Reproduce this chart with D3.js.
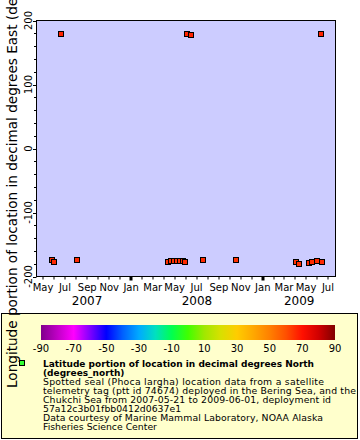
<!DOCTYPE html>
<html><head><meta charset="utf-8">
<script src="https://cdn.jsdelivr.net/npm/d3@7"></script>
<style>body{margin:0;background:#fff} svg{display:block;font-family:"DejaVu Sans",sans-serif}</style>
</head><body><svg id="c" width="360" height="440"></svg>
<script>
// ---- data ----
const dates = ["2007-05-26","2007-06-01","2007-06-21","2007-08-03",
  "2008-04-12","2008-04-21","2008-04-29","2008-05-07","2008-05-16","2008-05-24","2008-05-31",
  "2008-06-04","2008-06-15","2008-07-18","2008-10-19",
  "2009-04-02","2009-04-12","2009-05-08","2009-05-17","2009-06-01","2009-06-11","2009-06-14"];
const longitudes = [-174.5,-176.8,179.6,-174.5,
  -178,-176.5,-176.5,-176.5,-176.5,-176.5,-178,
  179.6,178,-174.5,-174.5,
  -178,-180,-179.2,-178,-176,179.6,-178];
const latitudes = [66,66,67,66,65,65,65,65,65,65,66,67,67,66,65,65,65,66,66,66,67,66];
const yTicks = [-200,-100,0,100,200];
const colorTicks = [-90,-70,-50,-30,-10,10,30,50,70,90];
const paletteStops = [-90,-70,-60,-50,-40,-30,-20,-10,0,10,20,30,40,50,60,70,80,90];
const paletteColors = ["#80008c","#ff00ff","#8000ff","#0000ff","#0060ff","#00aaff","#00e0c0","#00ff50","#40ff00","#a0e800","#d8e000","#ffcc00","#ffa800","#ff8000","#ff5000","#ff1000","#d00000","#800000"];
const monthNames = ["Jan","Feb","Mar","Apr","May","Jun","Jul","Aug","Sep","Oct","Nov","Dec"];
const years = [2007,2008,2009];
const yTitle = "Longitude portion of location in decimal degrees East (degrees_east)";
const legendTitle = ["Latitude portion of location in decimal degrees North","(degrees_north)"];
const legendLines = ["Spotted seal (Phoca largha) location data from a satellite",
  "telemetry tag (ptt id 74674) deployed in the Bering Sea, and the",
  "Chukchi Sea from 2007-05-21 to 2009-06-01, deployment id",
  "57a12c3b01fbb0412d0637e1",
  "Data courtesy of Marine Mammal Laboratory, NOAA Alaska",
  "Fisheries Science Center"];
const legendLineWidths = [281, 313, 288, null, 280, null];

const svg = d3.select("#c");
const L=36.5, R=335.5, T=20.5, B=276.5;
const parse = d3.utcParse("%Y-%m-%d");
const x = d3.scaleUtc().domain([parse("2007-04-13"), parse("2009-07-22")]).range([L,R]);
const y = d3.scaleLinear().domain([-200,200]).range([B,T]);
const color = d3.scaleLinear().domain(paletteStops).range(paletteColors);

// plot background
svg.append("rect").attr("x",L).attr("y",T).attr("width",R-L).attr("height",B-T)
  .attr("fill","#ccccff").attr("stroke","none");

// y ticks
const yMinor = d3.range(-200,201,20);
svg.append("g").selectAll("line").data(yMinor).join("line")
  .attr("x1",L).attr("x2",d=>d%100===0?L-3.5:L-2.5)
  .attr("y1",d=>Math.round(y(d))+0.5).attr("y2",d=>Math.round(y(d))+0.5)
  .attr("stroke","#000");
svg.append("g").selectAll("text").data(yTicks).join("text")
  .attr("transform",d=>`translate(32,${y(d)}) rotate(-90)`)
  .attr("text-anchor","middle").attr("font-size",10).text(d=>d);

// x ticks
const months = d3.utcMonth.range(x.domain()[0], x.domain()[1]);
svg.append("g").selectAll("rect").data(months).join("rect")
  .attr("x",d=>d.getUTCMonth()===0?Math.round(x(d))-1.5:Math.round(x(d))-0.5)
  .attr("width",d=>d.getUTCMonth()===0?3:1)
  .attr("y",B).attr("height",d=>d.getUTCMonth()===0?4:3)
  .attr("fill","#000");
svg.append("g").selectAll("text").data(months.filter(d=>d.getUTCMonth()%2===0))
  .join("text").attr("x",d=>x(d)).attr("y",291).attr("text-anchor","middle")
  .attr("font-size",10).text(d=>monthNames[d.getUTCMonth()]);
svg.append("g").selectAll("text").data(years).join("text")
  .attr("x",d=>{
    const inYear = months.filter(m=>m.getUTCFullYear()===d);
    const a = Math.max(x(Date.UTC(d,0,1)), x(inYear[0]));
    const b = Math.min(x(Date.UTC(d+1,0,1)), R);
    return (a+b)/2;})
  .attr("y",305).attr("text-anchor","middle").attr("font-size",12).text(d=>d);

// border
svg.append("rect").attr("x",L).attr("y",T).attr("width",R-L).attr("height",B-T)
  .attr("fill","none").attr("stroke","#000");

// points
const pts = dates.map((d,i)=>({t:parse(d),lon:longitudes[i],lat:latitudes[i]}));
svg.append("g").selectAll("rect").data(pts).join("rect")
  .attr("x",d=>Math.round(x(d.t))-2.5).attr("y",d=>Math.round(y(d.lon))-2.5)
  .attr("width",5).attr("height",5)
  .attr("fill",d=>color(d.lat)).attr("stroke","#000");

// legend box
svg.append("rect").attr("x",1.5).attr("y",313.5).attr("width",356).attr("height",125)
  .attr("fill","#ffffcc").attr("stroke","#000");

// colorbar
const cbL=41, cbR=335, cbT=325, cbB=340;
const grad = svg.append("defs").append("linearGradient").attr("id","g");
paletteStops.forEach((s,i)=>grad.append("stop")
  .attr("offset",((s+90)/180*100)+"%").attr("stop-color",paletteColors[i]));
const cx = d3.scaleLinear().domain([-90,90]).range([cbL,cbR]);
svg.append("rect").attr("x",cbL).attr("y",cbT).attr("width",cbR-cbL).attr("height",cbB-cbT)
  .attr("fill","url(#g)");
svg.append("g").selectAll("text").data(colorTicks).join("text")
  .attr("x",d=>cx(d)).attr("y",351.5).attr("text-anchor","middle").attr("font-size",10).text(d=>d);

// legend marker + text
svg.append("rect").attr("x",19.5).attr("y",360.5).attr("width",5).attr("height",5)
  .attr("fill","#33ff33").attr("stroke","#000");
legendTitle.forEach((s,i)=>svg.append("text").attr("x",43).attr("y",366.5+i*9)
  .attr("font-size",9).attr("font-weight","bold").text(s));
legendLines.forEach((s,i)=>{
  const t = svg.append("text").attr("x",43).attr("y",384.5+i*9)
    .attr("font-size",9.3).text(s);
  if (legendLineWidths[i]) t.attr("textLength",legendLineWidths[i]).attr("lengthAdjust","spacing");
});

// y title (drawn last, overlaps legend)
svg.append("text").attr("transform","translate(17,388) rotate(-90)")
  .attr("font-size",13.6).text(yTitle);
</script></body></html>
